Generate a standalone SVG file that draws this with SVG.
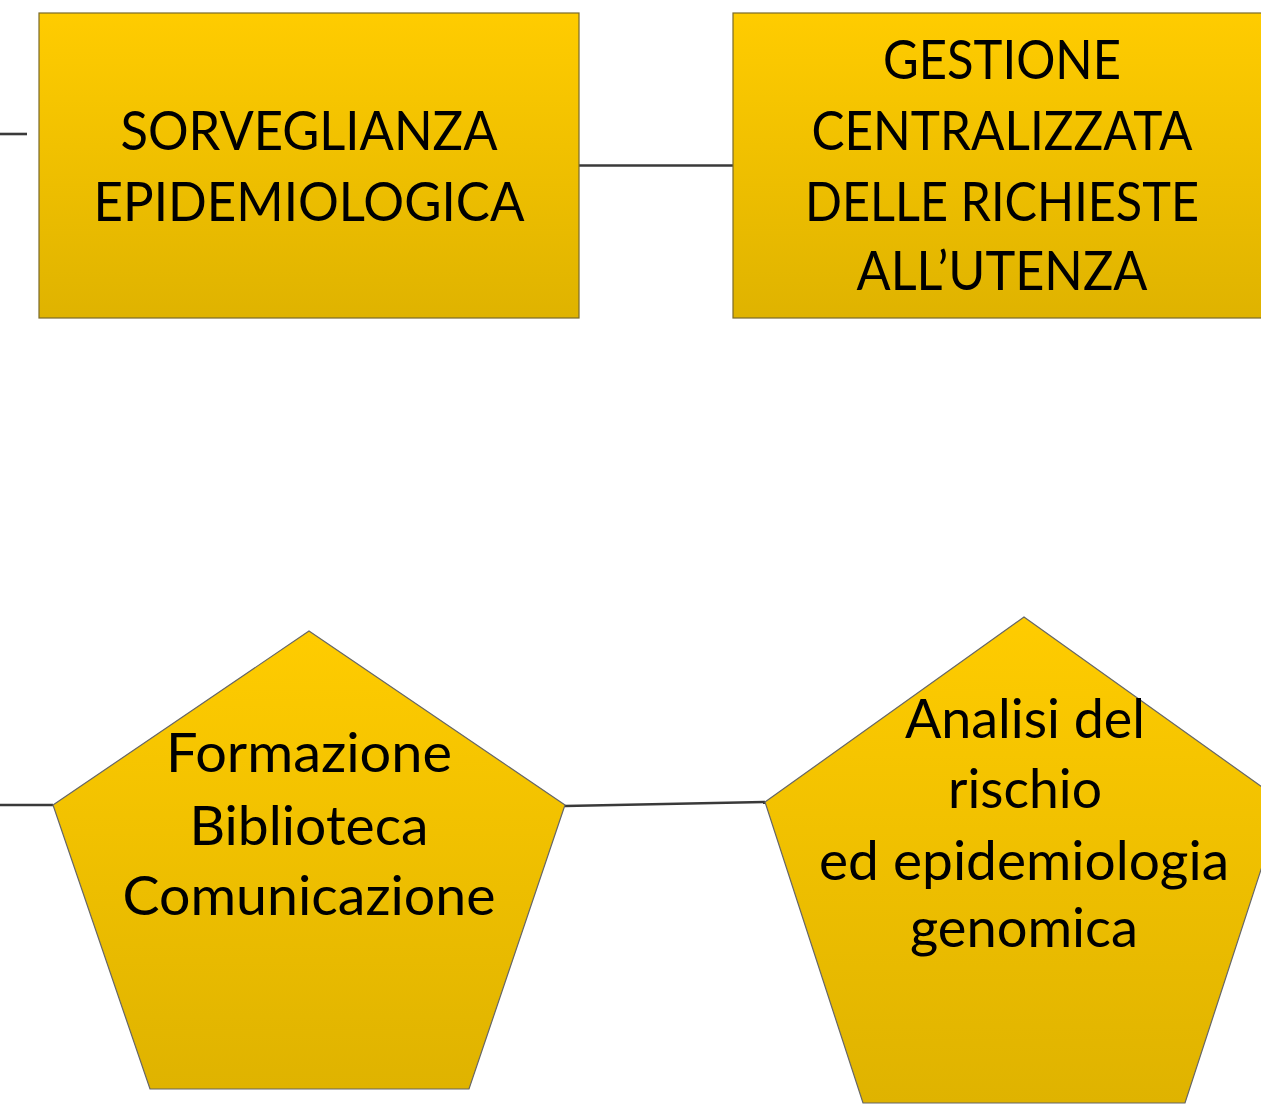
<svg xmlns="http://www.w3.org/2000/svg" width="1261" height="1115" viewBox="0 0 1261 1115">
<defs>
<linearGradient id="g" x1="0" y1="0" x2="0" y2="1">
<stop offset="0" stop-color="#FFCC00"/>
<stop offset="1" stop-color="#DFB300"/>
</linearGradient>
</defs>
<style>
.n{fill:url(#g);stroke:#7A6A2A;stroke-width:1.2}
.p{fill:url(#g);stroke:#666;stroke-width:1.2}
.t{font-family:Lato,"Open Sans",sans-serif;font-size:54px;fill:#000;text-anchor:middle}
.c{stroke:#3a3a3a;stroke-width:2.6;fill:none}
</style>
<rect width="1261" height="1115" fill="#fff"/>
<g id="connectors">
<line class="c" x1="0" y1="134" x2="27" y2="134"/>
<line class="c" x1="579" y1="165.5" x2="733" y2="165.5"/>
<line class="c" x1="0" y1="805" x2="53" y2="805"/>
<line class="c" x1="565" y1="806" x2="765" y2="802"/>
</g>
<g id="sorveglianza">
<rect class="n" x="39" y="13" width="540" height="305"/>
<text class="t" x="309" y="150" textLength="377" lengthAdjust="spacingAndGlyphs">SORVEGLIANZA</text>
<text class="t" x="309" y="221" textLength="431" lengthAdjust="spacingAndGlyphs">EPIDEMIOLOGICA</text>
</g>
<g id="gestione">
<rect class="n" x="733" y="13" width="540" height="305"/>
<text class="t" x="1002" y="79" textLength="238" lengthAdjust="spacingAndGlyphs">GESTIONE</text>
<text class="t" x="1002" y="150" textLength="381" lengthAdjust="spacingAndGlyphs">CENTRALIZZATA</text>
<text class="t" x="1002" y="221" textLength="394" lengthAdjust="spacingAndGlyphs">DELLE RICHIESTE</text>
<text class="t" x="1002" y="290" textLength="291" lengthAdjust="spacingAndGlyphs">ALL’UTENZA</text>
</g>
<g id="formazione">
<polygon class="p" points="309,631 565,805 469,1089 150,1089 53,805"/>
<text class="t" x="309" y="772" textLength="286" lengthAdjust="spacingAndGlyphs">Formazione</text>
<text class="t" x="309" y="845" textLength="239" lengthAdjust="spacingAndGlyphs">Biblioteca</text>
<text class="t" x="309" y="915" textLength="373" lengthAdjust="spacingAndGlyphs">Comunicazione</text>
</g>
<g id="analisi">
<polygon class="p" points="1024,617 1283,802 1185,1103 863,1103 765,802"/>
<text class="t" x="1025" y="738" textLength="240" lengthAdjust="spacingAndGlyphs">Analisi del</text>
<text class="t" x="1025" y="808" textLength="154" lengthAdjust="spacingAndGlyphs">rischio</text>
<text class="t" x="1024" y="880" textLength="410" lengthAdjust="spacingAndGlyphs">ed epidemiologia</text>
<text class="t" x="1024" y="947" textLength="228" lengthAdjust="spacingAndGlyphs">genomica</text>
</g>
</svg>
